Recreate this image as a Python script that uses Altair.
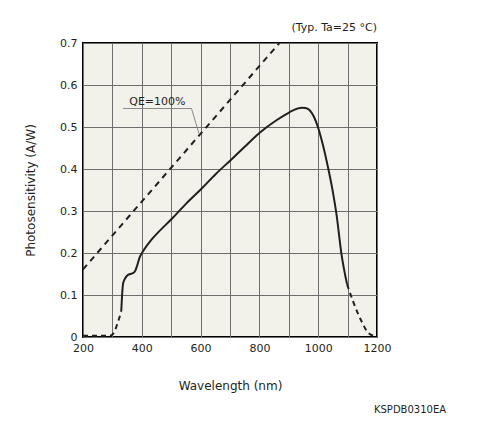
import altair as alt
import pandas as pd

# wavelength (nm) / photosensitivity (A/W)
uv_tail_nm = [200, 250, 290, 300, 310, 320, 330]
uv_tail_aw = [0.003, 0.003, 0.003, 0.006, 0.018, 0.038, 0.06]

main_nm = [330, 333, 336, 342, 350, 360, 370, 378, 385, 393, 404, 433, 450,
           503, 550, 603, 650, 702, 750, 802, 858, 902, 930, 943, 957, 971,
           985, 999, 1015, 1033, 1050, 1062, 1079, 1098]
main_aw = [0.06, 0.10, 0.126, 0.138, 0.146, 0.150, 0.152, 0.158, 0.172, 0.190,
           0.204, 0.232, 0.245, 0.282, 0.317, 0.353, 0.387, 0.421, 0.453, 0.487,
           0.516, 0.535, 0.544, 0.546, 0.545, 0.540, 0.525, 0.500, 0.460, 0.405,
           0.345, 0.293, 0.198, 0.126]

ir_tail_nm = [1098, 1118, 1147, 1170, 1192]
ir_tail_aw = [0.126, 0.086, 0.038, 0.010, 0.002]

qe_nm = [200, 868]
qe_aw = [0.161, 0.70]

# leader line for the "QE=100%" label
leader_nm = [336, 569, 595]
leader_aw = [0.544, 0.544, 0.483]
label_nm = [453]
label_aw = [0.559]

x_ticks = list(range(200, 1201, 100))
y_ticks = [round(v * 0.1, 1) for v in range(8)]

FONT = "DejaVu Sans"
INK = "#231f20"

x_enc = alt.X(
    "nm:Q",
    title="Wavelength (nm)",
    scale=alt.Scale(domain=[200, 1200], nice=False),
    axis=alt.Axis(
        values=x_ticks,
        labelExpr="datum.value % 200 == 0 ? datum.label : ''",
        format="d",
        ticks=False,
        domain=False,
        labelFlush=False,
        labelBound=False,
        labelOverlap=False,
        labelPadding=5,
        labelFontSize=11,
        titleFontSize=12,
        titleFontWeight="normal",
        titleX=147,
        titleY=48,
        titleBaseline="middle",
        titleAlign="center",
    ),
)
y_enc = alt.Y(
    "aw:Q",
    title="Photosensitivity (A/W)",
    scale=alt.Scale(domain=[0, 0.7], nice=False),
    axis=alt.Axis(
        values=y_ticks,
        format=".1~f",
        ticks=False,
        domain=False,
        labelFlush=False,
        labelPadding=6,
        labelFontSize=11,
        titleFontSize=12,
        titleFontWeight="normal",
        titleX=-53,
        titleY=147,
        titleBaseline="middle",
        titleAlign="center",
    ),
)


def frame(xs, ys):
    return pd.DataFrame({"nm": xs, "aw": ys, "i": range(len(xs))})


qe = alt.Chart(frame(qe_nm, qe_aw)).mark_line(
    color=INK, strokeWidth=2, strokeDash=[6, 5]
).encode(x=x_enc, y=y_enc)

uv = alt.Chart(frame(uv_tail_nm, uv_tail_aw)).mark_line(
    color=INK, strokeWidth=2, strokeDash=[5, 4], interpolate="monotone"
).encode(x=x_enc, y=y_enc)

main = alt.Chart(frame(main_nm, main_aw)).mark_line(
    color=INK, strokeWidth=2, interpolate="monotone"
).encode(x=x_enc, y=y_enc)

ir = alt.Chart(frame(ir_tail_nm, ir_tail_aw)).mark_line(
    color=INK, strokeWidth=2, strokeDash=[5, 4], interpolate="monotone"
).encode(x=x_enc, y=y_enc)

leader = alt.Chart(frame(leader_nm, leader_aw)).mark_line(
    color="#8a8a8a", strokeWidth=1
).encode(x=x_enc, y=y_enc, order="i:Q")

label = alt.Chart(frame(label_nm, label_aw).assign(t="QE=100%")).mark_text(
    font=FONT, fontSize=11, color=INK, align="center", baseline="middle"
).encode(x=x_enc, y=y_enc, text="t:N")

code = alt.Chart(pd.DataFrame({"t": ["KSPDB0310EA"]})).mark_text(
    font=FONT, fontSize=10, color=INK, align="center", baseline="middle"
).encode(x=alt.value(327), y=alt.value(367), text="t:N")

chart = (
    alt.layer(qe, leader, label, uv, main, ir, code)
    .properties(
        width=294,
        height=294,
        autosize=alt.AutoSizeParams(type="none"),
        padding={"left": 75, "top": 35, "right": 90, "bottom": 85},
        title=alt.Title(
            "(Typ. Ta=25 °C)",
            anchor="end",
            frame="group",
            fontSize=11,
            fontWeight="normal",
            font=FONT,
            color=INK,
            offset=4,
        ),
    )
    .configure(font=FONT)
    .configure_view(fill="#f3f2ea", stroke="black", strokeWidth=2)
    .configure_axis(
        gridColor="#6e6e6e",
        gridOpacity=1,
        gridWidth=1,
        labelColor=INK,
        titleColor=INK,
        labelFont=FONT,
        titleFont=FONT,
    )
)

chart.save("out.html", embed_options={"renderer": "svg", "actions": False})
